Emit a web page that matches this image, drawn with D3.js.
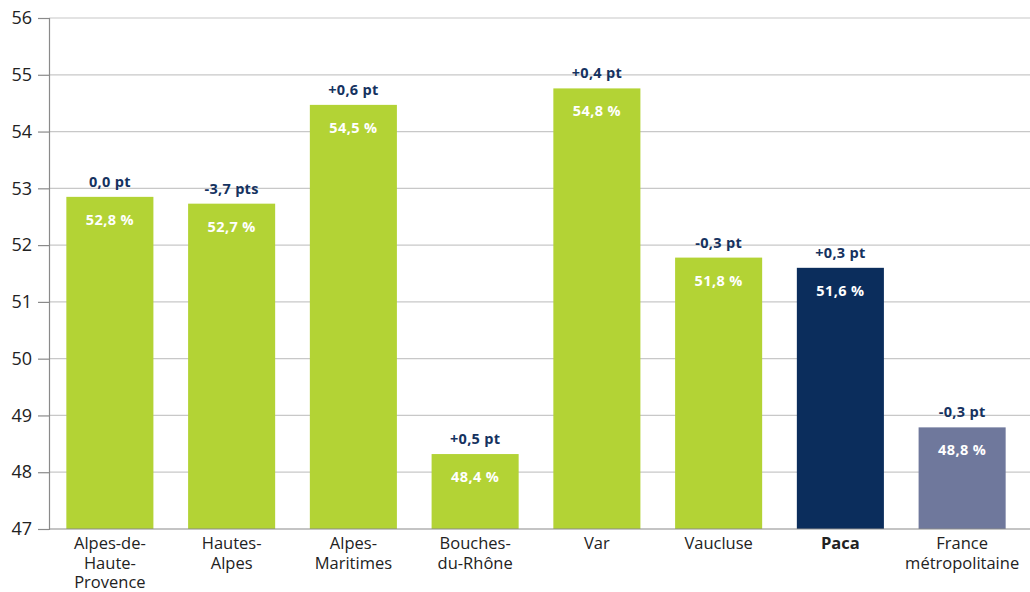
<!DOCTYPE html>
<html><head><meta charset="utf-8">
<script src="https://cdn.jsdelivr.net/npm/d3@7"></script>
<style>body{margin:0;background:#fff}svg{display:block}</style>
</head><body>
<svg id="c" width="1030" height="592"></svg>
<script>
const categories = [["Alpes-de-","Haute-","Provence"],["Hautes-","Alpes"],["Alpes-","Maritimes"],["Bouches-","du-Rhône"],["Var"],["Vaucluse"],["Paca"],["France","métropolitaine"]];
const values = [52.85, 52.73, 54.47, 48.32, 54.76, 51.78, 51.6, 48.79];
const valueLabels = ["52,8 %","52,7 %","54,5 %","48,4 %","54,8 %","51,8 %","51,6 %","48,8 %"];
const deltaLabels = ["0,0 pt","-3,7 pts","+0,6 pt","+0,5 pt","+0,4 pt","-0,3 pt","+0,3 pt","-0,3 pt"];
const yTicks = [47,48,49,50,51,52,53,54,55,56];
const barColors = ["#b3d335","#b3d335","#b3d335","#b3d335","#b3d335","#b3d335","#0b2d5c","#6f789c"];

const svg = d3.select("#c");
const font = "'Open Sans', 'DejaVu Sans', sans-serif";
const x = d3.scaleBand().domain(d3.range(categories.length)).range([49, 1023]).paddingInner(0.285).paddingOuter(0.1425);
const y = d3.scaleLinear().domain([47, 56]).range([529, 18]);

// gridlines
svg.append("g").selectAll("line").data(yTicks.slice(1)).join("line")
  .attr("x1", 49).attr("x2", 1030).attr("y1", d => y(d)).attr("y2", d => y(d))
  .attr("stroke", "#c8c8c8").attr("stroke-width", 1.2);

// y axis
const ya = svg.append("g").attr("transform", "translate(49,0)")
  .call(d3.axisLeft(y).tickValues(yTicks).tickSize(11).tickPadding(6).tickFormat(d3.format("d")));
ya.select(".domain").attr("stroke", "#8a8a8a").attr("stroke-width", 1.2);
ya.selectAll(".tick line").attr("stroke", "#8a8a8a").attr("stroke-width", 1.2);
ya.selectAll("text").attr("font-family", font).attr("font-size", 18).attr("fill", "#222");

// bars
svg.append("g").selectAll("rect").data(values).join("rect")
  .attr("x", (d, i) => x(i)).attr("width", x.bandwidth())
  .attr("y", d => y(d)).attr("height", d => y(47) - y(d))
  .attr("fill", (d, i) => barColors[i]);

// x axis baseline
svg.append("line").attr("x1", 49).attr("x2", 1030).attr("y1", y(47)).attr("y2", y(47))
  .attr("stroke", "#8a8a8a").attr("stroke-width", 1.2);

// value labels
svg.append("g").selectAll("text").data(values).join("text")
  .attr("x", (d, i) => x(i) + x.bandwidth() / 2).attr("y", d => y(d) + 28)
  .attr("text-anchor", "middle").attr("font-family", font).attr("font-weight", "bold")
  .attr("font-size", 14.5).attr("letter-spacing", 0.4).attr("fill", "#fff").text((d, i) => valueLabels[i]);

// delta labels
svg.append("g").selectAll("text").data(values).join("text")
  .attr("x", (d, i) => x(i) + x.bandwidth() / 2).attr("y", d => y(d) - 10)
  .attr("text-anchor", "middle").attr("font-family", font).attr("font-weight", "bold")
  .attr("font-size", 14.5).attr("letter-spacing", 0.3).attr("fill", "#15325f").text((d, i) => deltaLabels[i]);

// category labels
const cg = svg.append("g").selectAll("text").data(categories).join("text")
  .attr("text-anchor", "middle").attr("font-family", font).attr("font-size", 16.5)
  .attr("fill", "#222").attr("font-weight", (d, i) => i === 6 ? "bold" : "normal")
  .attr("transform", (d, i) => `translate(${x(i) + x.bandwidth() / 2},549)`);
cg.selectAll("tspan").data(d => d).join("tspan")
  .attr("x", 0).attr("y", (d, j) => j * 19.5).text(d => d);
</script>
</body></html>
